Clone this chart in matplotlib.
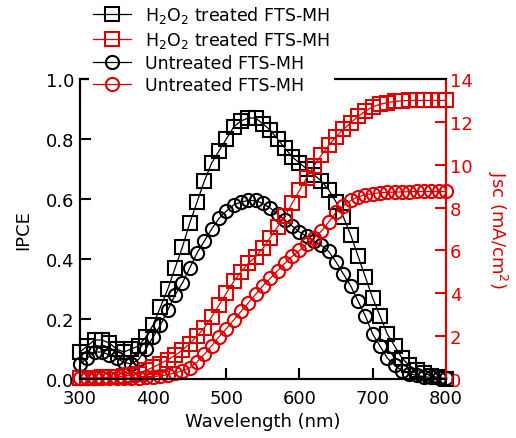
import numpy as np
import matplotlib
matplotlib.use("Agg")
import matplotlib.pyplot as plt

plt.rcParams['font.family'] = ['DejaVu Sans']

RED = "#dd0000"

wavelength = list(range(300, 801, 10))

# IPCE (left axis)
ipce_h2o2 = [0.09, 0.11, 0.13, 0.13, 0.12, 0.10, 0.09, 0.10, 0.11, 0.14,
             0.18, 0.24, 0.30, 0.37, 0.44, 0.52, 0.59, 0.66, 0.72, 0.76,
             0.80, 0.84, 0.86, 0.87, 0.87, 0.85, 0.83, 0.80, 0.77, 0.74,
             0.72, 0.70, 0.68, 0.66, 0.63, 0.59, 0.54, 0.48, 0.41, 0.34,
             0.27, 0.21, 0.15, 0.11, 0.07, 0.045, 0.03, 0.02, 0.01, 0.005, 0.0]
ipce_untreated = [0.05, 0.07, 0.09, 0.09, 0.08, 0.07, 0.055, 0.05, 0.065, 0.10,
                  0.14, 0.18, 0.23, 0.28, 0.32, 0.37, 0.42, 0.46, 0.50, 0.535,
                  0.56, 0.58, 0.59, 0.595, 0.595, 0.585, 0.57, 0.55, 0.53, 0.51,
                  0.49, 0.475, 0.46, 0.445, 0.425, 0.39, 0.35, 0.31, 0.26, 0.21,
                  0.15, 0.11, 0.07, 0.045, 0.028, 0.018, 0.012, 0.008, 0.005, 0.003, 0.002]

# Jsc (right axis, mA/cm2)
jsc_h2o2 = [0.05, 0.05, 0.06, 0.07, 0.08, 0.10, 0.13, 0.18, 0.25, 0.40,
            0.55, 0.72, 0.90, 1.10, 1.35, 1.65, 2.00, 2.40, 2.90, 3.45,
            4.00, 4.55, 5.00, 5.40, 5.70, 6.10, 6.60, 7.10, 7.60, 8.20,
            8.80, 9.40, 9.95, 10.45, 10.90, 11.30, 11.65, 11.95, 12.25, 12.50,
            12.70, 12.82, 12.90, 12.95, 12.98, 13.0, 13.0, 13.0, 13.0, 13.0, 13.0]
jsc_untreated = [0.03, 0.03, 0.03, 0.03, 0.04, 0.04, 0.05, 0.05, 0.06, 0.08,
                 0.11, 0.15, 0.20, 0.28, 0.38, 0.52, 0.80, 1.15, 1.55, 1.97,
                 2.35, 2.75, 3.15, 3.55, 3.95, 4.35, 4.70, 5.05, 5.40, 5.72,
                 6.00, 6.30, 6.60, 6.90, 7.33, 7.78, 8.08, 8.33, 8.50, 8.60,
                 8.65, 8.69, 8.71, 8.72, 8.73, 8.74, 8.75, 8.75, 8.75, 8.75, 8.75]

labels = [r"H$_2$O$_2$ treated FTS-MH", r"H$_2$O$_2$ treated FTS-MH",
          "Untreated FTS-MH", "Untreated FTS-MH"]

fig = plt.figure(figsize=(5.16, 4.39), dpi=100)
ax = fig.add_axes([0.155, 0.1344, 0.709, 0.6834])
ax2 = ax.twinx()

mk = dict(ms=9.5, mew=1.5, mfc="none", lw=0.9, clip_on=False)
l1, = ax.plot(wavelength, ipce_h2o2, "s-", color="black", label=labels[0], **mk)
l3, = ax.plot(wavelength, ipce_untreated, "o-", color="black", label=labels[2], **mk)
l2, = ax2.plot(wavelength, jsc_h2o2, "s-", color=RED, label=labels[1], **mk)
l4, = ax2.plot(wavelength, jsc_untreated, "o-", color=RED, label=labels[3], **mk)

ax.set_xlim(300, 800)
ax.set_ylim(0, 1.0)
ax2.set_ylim(0, 14)
ax.set_xticks(range(300, 801, 100))
ax.set_yticks(np.arange(0, 1.01, 0.2))
ax.set_yticklabels([f"{v:.1f}" for v in np.arange(0, 1.01, 0.2)])
ax2.set_yticks(range(0, 15, 2))

ax.tick_params(direction="in", length=8, width=1.5, labelsize=13, pad=4)
ax.tick_params(axis="x", pad=7)
ax2.tick_params(direction="in", length=8, width=1.5, labelsize=13, pad=3,
                colors=RED)
for s in ax.spines.values():
    s.set_linewidth(1.5)
for s in ax2.spines.values():
    s.set_linewidth(1.5)
ax2.spines["right"].set_color(RED)

ax.set_xlabel("Wavelength (nm)", fontsize=13, labelpad=4)
ax.set_ylabel("IPCE", fontsize=13, labelpad=10)
ax2.set_ylabel(r"Jsc (mA/cm$^2$)", fontsize=13, color=RED, rotation=270,
               labelpad=26)

leg = ax2.legend([l1, l2, l3, l4], labels, loc="upper left",
                 bbox_to_anchor=(0.172, 0.998), bbox_transform=fig.transFigure,
                 fontsize=12.5, frameon=True, facecolor="white", edgecolor="none",
                 framealpha=1.0, fancybox=False, borderpad=0.25,
                 handlelength=2.2, handletextpad=0.8, labelspacing=0.22,
                 borderaxespad=0)
leg.set_zorder(10)

fig.savefig("out.png", dpi=100)
